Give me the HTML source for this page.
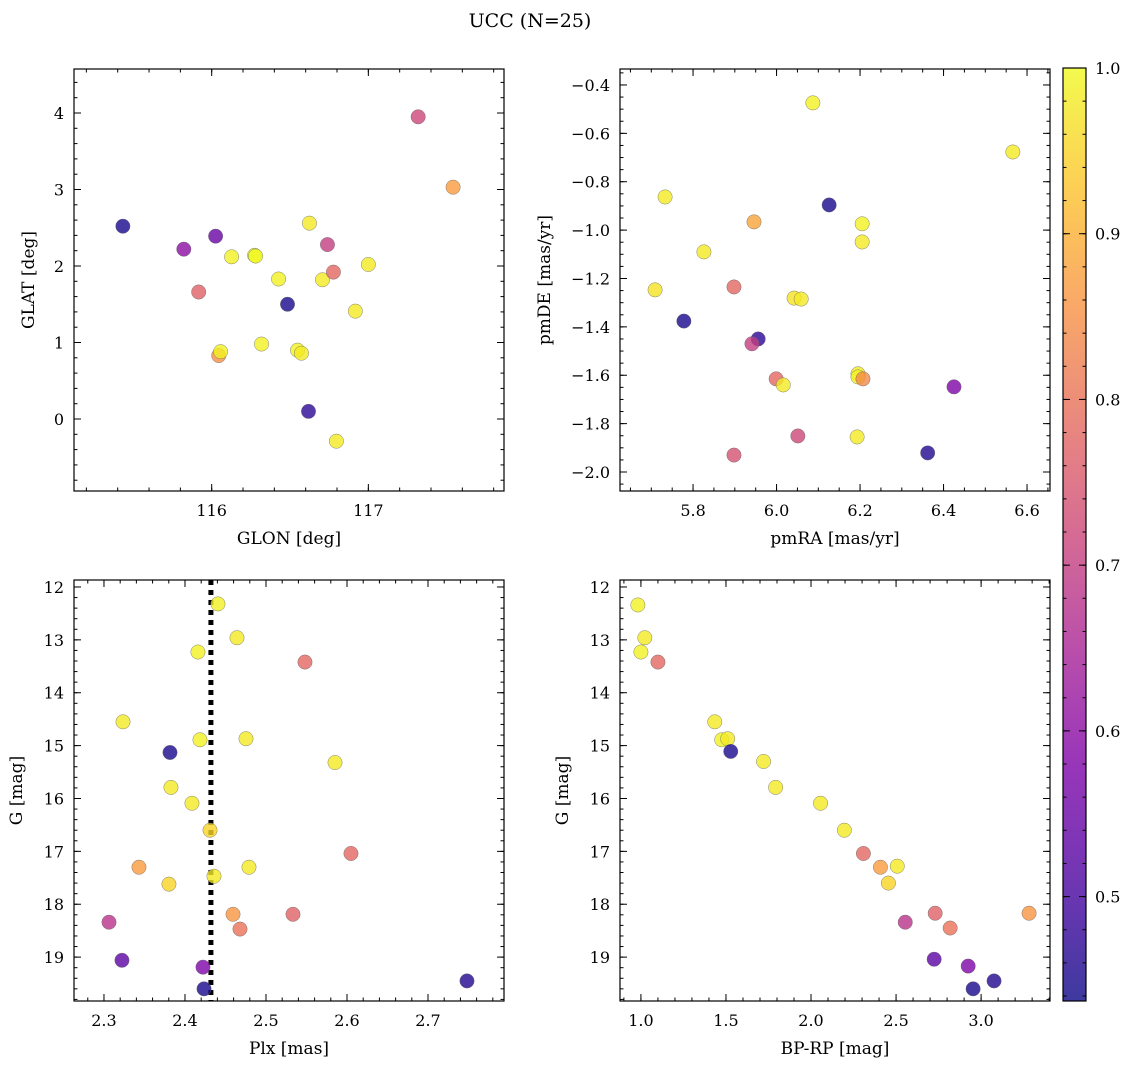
<!DOCTYPE html>
<html><head><meta charset="utf-8"><style>
html,body{margin:0;padding:0;background:#fff;}
svg{display:block;font-family:"DejaVu Serif","Liberation Serif",serif;}
</style></head><body>
<svg id="fig" width="1136" height="1068" viewBox="0 0 1136 1068" xmlns="http://www.w3.org/2000/svg">
<text x="530" y="27" font-size="19" text-anchor="middle">UCC (N=25)</text>
</svg>
<script>
// ---- data (per panel) ----
const glonVals=[115.433,115.822,116.025,115.917,116.045,116.057,116.127,116.274,116.280,116.318,116.427,116.484,116.548,116.573,116.624,116.618,116.707,116.739,116.777,116.796,116.917,117.0,117.318,117.541];
const glatVals=[2.52,2.22,2.39,1.66,0.83,0.88,2.12,2.14,2.13,0.98,1.83,1.50,0.90,0.86,2.56,0.10,1.82,2.28,1.92,-0.29,1.41,2.02,3.95,3.03];
const glonProb=[0.45,0.60,0.55,0.77,0.85,0.99,0.99,0.99,1.0,0.99,0.99,0.45,0.99,0.98,0.98,0.47,0.98,0.70,0.78,0.98,0.98,0.98,0.72,0.87];

const pmraVals=[6.087,6.566,5.733,6.126,5.946,6.205,6.205,5.826,5.709,5.898,6.042,6.059,5.778,5.956,5.941,5.999,6.016,6.195,6.195,6.207,6.425,6.051,6.193,5.898,6.362];
const pmdeVals=[-0.474,-0.677,-0.863,-0.896,-0.966,-0.974,-1.049,-1.090,-1.247,-1.235,-1.281,-1.285,-1.376,-1.450,-1.470,-1.615,-1.640,-1.594,-1.607,-1.615,-1.648,-1.851,-1.855,-1.930,-1.921];
const pmProb=[0.99,0.98,0.98,0.45,0.88,0.99,0.98,0.98,0.97,0.78,0.97,0.98,0.45,0.47,0.70,0.78,0.98,0.98,0.99,0.84,0.58,0.72,0.98,0.74,0.46];

const plxVals=[2.4407,2.4642,2.4160,2.5481,2.3235,2.3815,2.4185,2.4753,2.5852,2.3827,2.4086,2.4309,2.6049,2.3432,2.4790,2.4358,2.3802,2.4593,2.5333,2.4679,2.3062,2.3222,2.4222,2.4235,2.7481];
const gVals=[12.32,12.96,13.23,13.42,14.55,15.13,14.89,14.87,15.32,15.79,16.09,16.60,17.04,17.30,17.30,17.47,17.62,18.19,18.19,18.47,18.34,19.06,19.19,19.60,19.45];
const plxProb=[0.99,0.98,0.99,0.78,0.98,0.45,0.99,0.98,0.98,0.98,0.98,0.95,0.78,0.87,0.98,0.98,0.95,0.86,0.77,0.80,0.68,0.53,0.58,0.45,0.46];
const plxCut=[2.432];

const bprpVals=[0.982,1.023,1.0,1.100,1.434,1.475,1.510,1.528,1.721,1.792,2.056,2.196,2.308,2.408,2.507,2.455,2.730,2.818,3.282,2.554,2.724,2.924,2.953,3.076];
const g2Vals=[12.34,12.96,13.23,13.42,14.55,14.89,14.87,15.11,15.30,15.79,16.09,16.60,17.04,17.30,17.28,17.60,18.17,18.45,18.17,18.34,19.04,19.17,19.60,19.45];
const bprpProb=[0.99,0.98,0.99,0.78,0.98,0.99,0.98,0.45,0.98,0.98,0.98,0.98,0.78,0.87,0.98,0.95,0.77,0.80,0.86,0.68,0.53,0.58,0.45,0.46];

const cbTicks=[0.5,0.6,0.7,0.8,0.9,1.0];

// ---- helpers ----
const NS="http://www.w3.org/2000/svg";
const svg=document.getElementById('fig');
function mk(tag,attrs,parent){const e=document.createElementNS(NS,tag);for(const k in attrs)e.setAttribute(k,attrs[k]);(parent||svg).appendChild(e);return e;}
const plasma=[[0.0,[13,8,135]],[0.125,[75,3,161]],[0.25,[125,3,168]],[0.375,[168,34,150]],[0.5,[203,70,121]],[0.625,[229,107,93]],[0.75,[248,148,65]],[0.875,[253,195,40]],[1.0,[240,249,33]]];
const vmin=0.437,vmax=1.0;
function cmap(v){let t=(v-vmin)/(vmax-vmin);t=Math.max(0,Math.min(1,t));
 for(let i=1;i<plasma.length;i++){if(t<=plasma[i][0]){const a=plasma[i-1],b=plasma[i];const f=(t-a[0])/(b[0]-a[0]);
 const c=a[1].map((x,j)=>Math.round(x+(b[1][j]-x)*f));return `rgb(${c[0]},${c[1]},${c[2]})`;}}return 'rgb(240,249,33)';}
function fmt(v,d){let s=v.toFixed(d);return s.replace('-','\u2212');}
function ticksFor(lo,hi,step){const out=[];const s=Math.ceil(lo/step-1e-9);for(let i=s;i*step<=hi+1e-9;i++)out.push(+(i*step).toFixed(6));return out;}

function panel(p){
 const g=mk('g',{});
 
 
 const sx=v=>p.x0+(v-p.xmin)/(p.xmax-p.xmin)*(p.x1-p.x0);
 const sy=v=>p.ydir>0? p.y0+(v-p.ymin)/(p.ymax-p.ymin)*(p.y1-p.y0) : p.y1-(v-p.ymin)/(p.ymax-p.ymin)*(p.y1-p.y0);
 ticksFor(p.xmin,p.xmax,p.xminor).forEach(v=>{const x=sx(v);mk('line',{x1:x,x2:x,y1:p.y1,y2:p.y1-3.5,stroke:'#000','stroke-width':1},g);mk('line',{x1:x,x2:x,y1:p.y0,y2:p.y0+3.5,stroke:'#000','stroke-width':1},g);});
 ticksFor(p.ymin,p.ymax,p.yminor).forEach(v=>{const y=sy(v);mk('line',{x1:p.x0,x2:p.x0+3.5,y1:y,y2:y,stroke:'#000','stroke-width':1},g);mk('line',{x1:p.x1,x2:p.x1-3.5,y1:y,y2:y,stroke:'#000','stroke-width':1},g);});
 ticksFor(p.xmin,p.xmax,p.xmajor).forEach(v=>{const x=sx(v);mk('line',{x1:x,x2:x,y1:p.y1,y2:p.y1-7,stroke:'#000','stroke-width':1},g);mk('line',{x1:x,x2:x,y1:p.y0,y2:p.y0+7,stroke:'#000','stroke-width':1},g);
  const t=mk('text',{x:x,y:p.y1+25,'font-size':16,'text-anchor':'middle'},g);t.textContent=fmt(v,p.xd);
  
  });
 ticksFor(p.ymin,p.ymax,p.ymajor).forEach(v=>{const y=sy(v);mk('line',{x1:p.x0,x2:p.x0+7,y1:y,y2:y,stroke:'#000','stroke-width':1},g);mk('line',{x1:p.x1,x2:p.x1-7,y1:y,y2:y,stroke:'#000','stroke-width':1},g);
  const t=mk('text',{x:p.x0-10,y:y+6,'font-size':16,'text-anchor':'end'},g);t.textContent=fmt(v,p.yd);
  
  });
 if(p.vline!==undefined){const x=sx(p.vline);const l=mk('line',{x1:x,x2:x,y1:p.y0,y2:p.y1,stroke:'#000','stroke-width':5,'stroke-dasharray':'5,5'},g);
  
  }
 p.xs.forEach((xv,i)=>{const c=mk('circle',{cx:sx(xv),cy:sy(p.ys[i]),r:7.2,fill:cmap(p.cs[i]),'fill-opacity':0.8,stroke:'#666','stroke-width':0.4},g);
  
  });
 mk('rect',{x:p.x0,y:p.y0,width:p.x1-p.x0,height:p.y1-p.y0,fill:'none',stroke:'#000','stroke-width':1.2},g);
 const xl=mk('text',{x:(p.x0+p.x1)/2,y:p.y1+53,'font-size':17,'text-anchor':'middle'},g);xl.textContent=p.xlabel;
 
 
 const yl=mk('text',{x:0,y:0,'font-size':17,'text-anchor':'middle',transform:`translate(${p.ylx},${(p.y0+p.y1)/2}) rotate(-90)`},g);yl.textContent=p.ylabel;
 
 
}
panel({name:'glon-glat-panel',x0:74,x1:504,y0:69,y1:491,xmin:115.121,xmax:117.866,ymin:-0.941,ymax:4.575,ydir:-1,xmajor:1,xminor:0.2,ymajor:1,yminor:0.2,xd:0,yd:0,xs:glonVals,ys:glatVals,cs:glonProb,xlabel:'GLON [deg]',ylabel:'GLAT [deg]',ylx:34});
panel({name:'proper-motion-panel',x0:620,x1:1050,y0:69,y1:491,xmin:5.625,xmax:6.655,ymin:-2.0785,ymax:-0.334,ydir:-1,xmajor:0.2,xminor:0.05,ymajor:0.2,yminor:0.05,xd:1,yd:1,xs:pmraVals,ys:pmdeVals,cs:pmProb,xlabel:'pmRA [mas/yr]',ylabel:'pmDE [mas/yr]',ylx:550});
panel({name:'plx-g-panel',x0:74,x1:504,y0:580,y1:1001,xmin:2.263,xmax:2.7938,ymin:11.868,ymax:19.83,ydir:1,xmajor:0.1,xminor:0.02,ymajor:1,yminor:0.2,xd:1,yd:0,xs:plxVals,ys:gVals,cs:plxProb,xlabel:'Plx [mas]',ylabel:'G [mag]',ylx:22,vline:plxCut[0]});
panel({name:'cmd-panel',x0:620,x1:1050,y0:580,y1:1001,xmin:0.877,xmax:3.405,ymin:11.868,ymax:19.83,ydir:1,xmajor:0.5,xminor:0.1,ymajor:1,yminor:0.2,xd:1,yd:0,xs:bprpVals,ys:g2Vals,cs:bprpProb,xlabel:'BP-RP [mag]',ylabel:'G [mag]',ylx:568});

// colorbar
(function(){
 const x0=1063,x1=1086,y0=68,y1=1001;
 const g=mk('g',{});
 
 
 const defs=mk('defs',{},g);const lg=mk('linearGradient',{id:'cbg',x1:0,y1:1,x2:0,y2:0},defs);
 for(let i=0;i<=20;i++){const v=vmin+(vmax-vmin)*i/20;mk('stop',{offset:(i/20),'stop-color':cmap(v),'stop-opacity':0.8},lg);}
 mk('rect',{x:x0,y:y0,width:x1-x0,height:y1-y0,fill:'url(#cbg)',stroke:'#000','stroke-width':1.2},g);
 const sy=v=>y1-(v-vmin)/(vmax-vmin)*(y1-y0);
 ticksFor(vmin,vmax,0.02).forEach(v=>{const y=sy(v);mk('line',{x1:x1,x2:x1-3.5,y1:y,y2:y,stroke:'#000'},g);mk('line',{x1:x0,x2:x0+3.5,y1:y,y2:y,stroke:'#000'},g);});
 cbTicks.forEach(v=>{const y=sy(v);mk('line',{x1:x1,x2:x1-7,y1:y,y2:y,stroke:'#000'},g);mk('line',{x1:x0,x2:x0+7,y1:y,y2:y,stroke:'#000'},g);
  const t=mk('text',{x:x1+9,y:y+6,'font-size':16},g);t.textContent=v.toFixed(1);
  
  });
})();
</script>
</body></html>
